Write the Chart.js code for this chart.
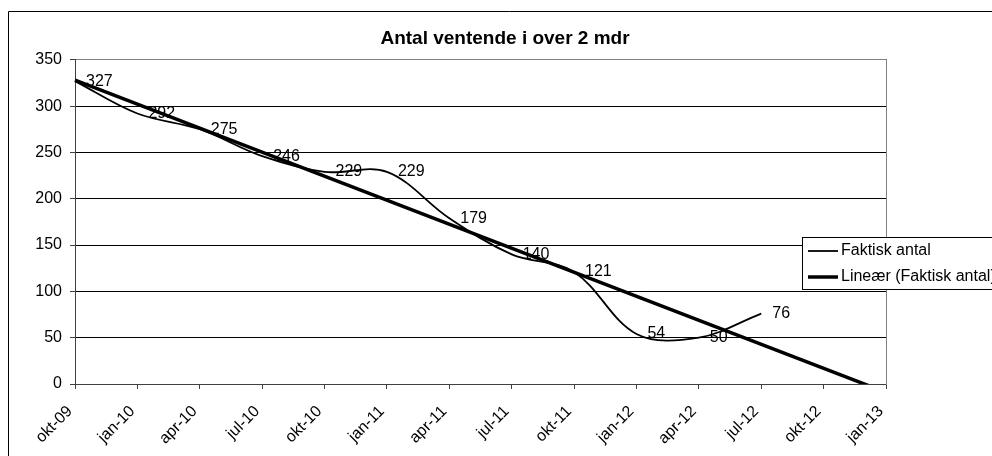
<!DOCTYPE html>
<html>
<head>
<meta charset="utf-8">
<script src="https://cdn.jsdelivr.net/npm/chart.js@4"></script>
<style>
  html, body { margin: 0; padding: 0; background: #fff; overflow: hidden; }
  canvas { display: block; }
</style>
</head>
<body>
<canvas id="chart" width="1010" height="456"></canvas>
<script>
const quarters = [
  "okt-09", "jan-10", "apr-10", "jul-10", "okt-10", "jan-11", "apr-11",
  "jul-11", "okt-11", "jan-12", "apr-12", "jul-12", "okt-12", "jan-13",
];
const faktiskAntal = [327, 292, 275, 246, 229, 229, 179, 140, 121, 54, 50, 76, null, null];
// trend line: start and end point only
const trendValues = [328, null, null, null, null, null, null, null, null, null, null, null, null, -9];
const yTicks = [0, 50, 100, 150, 200, 250, 300, 350];

const FONT = "'Liberation Sans', Arial, sans-serif";
const AXIS = "#404040";

// outer chart border (chart is cut off at right and bottom)
const frame = {
  id: "frame",
  beforeDraw(chart) {
    const c = chart.ctx;
    c.save();
    c.strokeStyle = "#000";
    c.lineWidth = 1;
    c.beginPath();
    c.moveTo(8.5, 460);
    c.lineTo(8.5, 11.5);
    c.lineTo(1010, 11.5);
    c.stroke();
    c.restore();
  },
};

// values written next to each point
const pointLabels = {
  id: "pointLabels",
  afterDatasetsDraw(chart) {
    const c = chart.ctx;
    const meta = chart.getDatasetMeta(0);
    c.save();
    c.font = "16px " + FONT;
    c.fillStyle = "#000";
    c.textAlign = "left";
    c.textBaseline = "middle";
    meta.data.forEach((pt, i) => {
      const v = faktiskAntal[i];
      if (v === null) return;
      c.fillText(String(v), pt.x + 11, pt.y);
    });
    c.restore();
  },
};

// legend box sitting over the right edge of the plot
const boxLegend = {
  id: "boxLegend",
  afterDraw(chart) {
    const c = chart.ctx;
    const x = 802, y = 237, w = 205, h = 52;
    c.save();
    c.fillStyle = "#fff";
    c.fillRect(x, y, w, h);
    c.strokeStyle = "#000";
    c.lineWidth = 1;
    c.strokeRect(x + 0.5, y + 0.5, w, h);
    c.font = "16px " + FONT;
    c.textBaseline = "middle";
    c.fillStyle = "#000";
    chart.data.datasets.forEach((ds, i) => {
      const ry = y + 14 + i * 26;
      c.strokeStyle = ds.borderColor;
      c.lineWidth = ds.borderWidth;
      c.beginPath();
      c.moveTo(808, ry);
      c.lineTo(838, ry);
      c.stroke();
      c.fillText(ds.label, 841, ry);
    });
    c.restore();
  },
};

new Chart(document.getElementById("chart"), {
  type: "line",
  data: {
    labels: quarters,
    datasets: [
      {
        label: "Faktisk antal",
        data: faktiskAntal,
        borderColor: "#000",
        borderWidth: 1.8,
        tension: 0.35,
        pointRadius: 0,
        fill: false,
        order: 1,
      },
      {
        label: "Lineær (Faktisk antal)",
        data: trendValues,
        borderColor: "#000",
        borderWidth: 3.5,
        spanGaps: true,
        pointRadius: 0,
        fill: false,
        order: 0,
      },
    ],
  },
  options: {
    responsive: false,
    animation: false,
    devicePixelRatio: 1,
    layout: { padding: 0 },
    plugins: {
      legend: { display: false },
      tooltip: { enabled: false },
      title: {
        display: true,
        text: "Antal ventende i over 2 mdr",
        color: "#000",
        font: { family: FONT, size: 19, weight: "bold", lineHeight: 1.2 },
        padding: { top: 27, bottom: 10 },
      },
    },
    scales: {
      x: {
        type: "category",
        offset: false,
        grid: {
          drawOnChartArea: false,
          drawTicks: true,
          tickLength: 5,
          tickColor: AXIS,
        },
        border: { color: AXIS, width: 1 },
        ticks: {
          autoSkip: false,
          maxRotation: 45,
          minRotation: 45,
          padding: 13,
          labelOffset: -5,
          color: "#000",
          font: { family: FONT, size: 16 },
        },
        afterFit(scale) { scale.height = 72; },
      },
      y: {
        min: 0,
        max: 350,
        afterBuildTicks(scale) { scale.ticks = yTicks.map((v) => ({ value: v })); },
        grid: {
          color: (ctx) => (ctx.tick && ctx.tick.value === 350 ? "#808080" : ctx.tick && ctx.tick.value === 0 ? AXIS : "#000"),
          tickLength: 5,
          tickColor: AXIS,
        },
        border: { color: AXIS, width: 1 },
        ticks: {
          padding: 8,
          color: "#000",
          font: { family: FONT, size: 16 },
        },
        afterFit(scale) { scale.width = 75; },
      },
      edge: {
        position: "right",
        min: 0,
        max: 1,
        grid: { display: false },
        ticks: { display: false },
        border: { display: true, color: "#808080", width: 1 },
        afterFit(scale) { scale.width = 124; },
      },
    },
  },
  plugins: [frame, pointLabels, boxLegend],
});
</script>
</body>
</html>
